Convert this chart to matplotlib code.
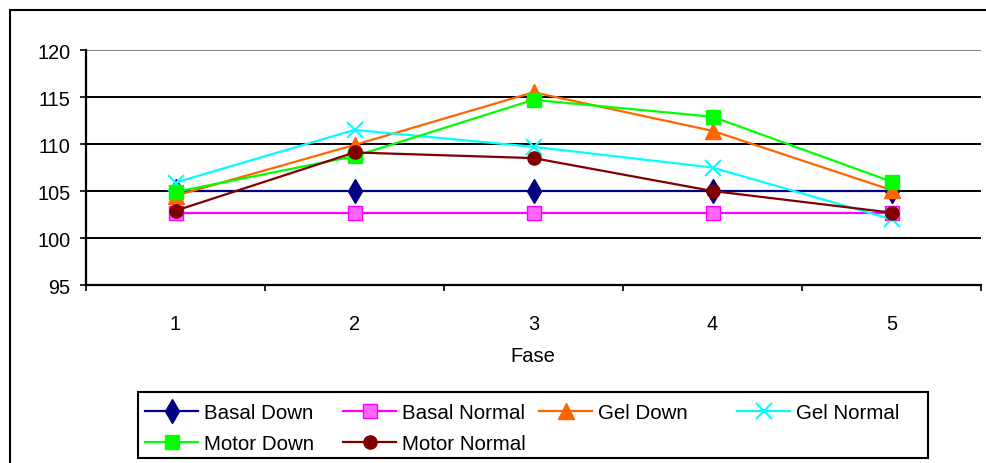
import matplotlib
matplotlib.use("Agg")
import matplotlib.pyplot as plt
from matplotlib.patches import Rectangle

plt.rcParams['font.family'] = ['Liberation Sans', 'DejaVu Sans']

fases = [1, 2, 3, 4, 5]
fase_labels = ["1", "2", "3", "4", "5"]
basal_down = [105.0, 105.0, 105.0, 105.0, 105.0]
basal_normal = [102.7, 102.7, 102.7, 102.7, 102.7]
gel_down = [104.5, 109.9, 115.5, 111.4, 105.1]
gel_normal = [105.9, 111.5, 109.7, 107.5, 102.0]
motor_down = [104.9, 108.7, 114.7, 112.9, 106.0]
motor_normal = [102.9, 109.1, 108.5, 105.0, 102.7]
y_ticks = [95, 100, 105, 110, 115, 120]

series = [
    ("Basal Down", basal_down, "#000080", "d", 12, "#000080"),
    ("Basal Normal", basal_normal, "#FF00FF", "s", 10, "#FF66FF"),
    ("Gel Down", gel_down, "#FF6600", "^", 11, "#FF6600"),
    ("Gel Normal", gel_normal, "#00FFFF", "x", 12, "#00FFFF"),
    ("Motor Down", motor_down, "#00FF00", "s", 10, "#00FF00"),
    ("Motor Normal", motor_normal, "#800000", "o", 9.5, "#800000"),
]

W, H = 987, 464
fig = plt.figure(figsize=(W / 100, H / 100), dpi=100)
fig.patch.set_facecolor("white")

# outer chart border
fig.patches.append(Rectangle((10 / W, -0.1), 1.2, 1 - 11 / H + 0.1,
                             transform=fig.transFigure, fill=False,
                             edgecolor="black", linewidth=1.5))

ax = fig.add_axes([86 / W, 1 - 286 / H, (981 - 86) / W, (286 - 51) / H])
ax.set_xlim(0.5, 5.5)
ax.set_ylim(95, 120)

for yv in y_ticks[1:]:
    ax.axhline(yv, color="#808080" if yv == 120 else "black", lw=1.4, zorder=1)

handles = []
for name, vals, col, mk, ms, fc in series:
    h, = ax.plot(fases, vals, color=col, lw=1.6, marker=mk, markersize=ms,
                 markerfacecolor=fc, markeredgecolor=col,
                 markeredgewidth=1.5 if mk == "x" else 1.0, zorder=3,
                 label=name, clip_on=False)
    handles.append(h)

for s in ["top", "right"]:
    ax.spines[s].set_visible(False)
for s in ["left", "bottom"]:
    ax.spines[s].set_linewidth(1.6)
    ax.spines[s].set_color("black")

ax.set_yticks(y_ticks)
ax.set_yticklabels([str(v) for v in y_ticks])
ax.tick_params(axis="y", direction="out", length=4.3, width=1.2, pad=7, labelsize=14.3)

ax.set_xticks(fases)
ax.set_xticklabels(fase_labels)
ax.set_xticks([0.5, 1.5, 2.5, 3.5, 4.5, 5.5], minor=True)
ax.tick_params(axis="x", which="major", length=0, pad=21, labelsize=14.3)
ax.tick_params(axis="x", which="minor", direction="out", length=4.5, width=1.2)

fig.text(533 / W, 1 - 357 / H, "Fase", ha="center", va="center", fontsize=14.5)

# legend: frame + one entry per slot (Excel-style fixed grid)
fig.patches.append(Rectangle((138 / W, 1 - 459 / H), (928 - 138) / W, (459 - 393) / H,
                             transform=fig.transFigure, fill=True, facecolor="white",
                             edgecolor="black", linewidth=1.5, zorder=5))
col_x = [145, 343, 539, 737]
row_y = [414, 445]
slots = [(0, 0, 0), (1, 0, 1), (2, 0, 2), (3, 0, 3), (4, 1, 0), (5, 1, 1)]
for idx, r, c in slots:
    lg = fig.legend([handles[idx]], [series[idx][0]], loc="center left",
                    bbox_to_anchor=(col_x[c] / W, 1 - row_y[r] / H),
                    fontsize=14.8, frameon=False, handlelength=2.6,
                    handletextpad=0.25, borderpad=0, borderaxespad=0,
                    markerscale=1.0)
    lg.set_zorder(6)

fig.savefig("out.png", dpi=100, facecolor="white")
